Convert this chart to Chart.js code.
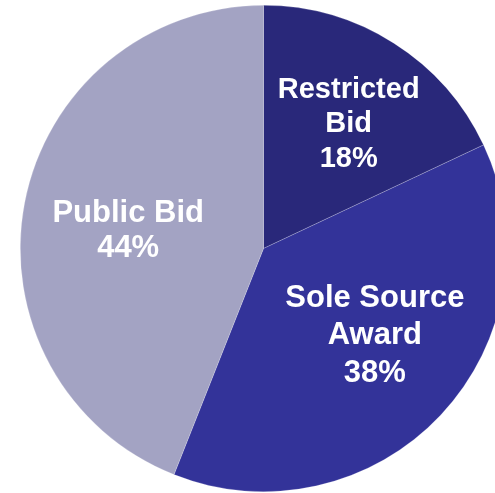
<!DOCTYPE html>
<html>
<head>
<meta charset="utf-8">
<script src="https://cdn.jsdelivr.net/npm/chart.js@4/dist/chart.umd.min.js"></script>
<style>
html,body{margin:0;padding:0;background:#fff;overflow:hidden;width:495px;height:493px;}
#wrap{position:absolute;left:0;top:0;width:527px;height:497px;}
</style>
</head>
<body>
<div id="wrap"><canvas id="c" width="527" height="497"></canvas></div>
<script>
const categories = ["Restricted Bid", "Sole Source Award", "Public Bid"];
const labelLines = [["Restricted", "Bid"], ["Sole Source", "Award"], ["Public Bid"]];
const shares = [18, 38, 44];
const colors = ["#29287a", "#333399", "#a3a3c3"];
// label placement styling (radius fraction, pixel nudges, line height, font size)
const labelStyle = [
  {r: 0.6, dx: 7, dy: -1, lh: 34.5, size: 29},
  {r: 0.6, dx: 5, dy: -12.5, lh: 37.5, size: 31},
  {r: 0.6, dx: 8, dy: 10, lh: 35, size: 31}
];

const labelPlugin = {
  id: 'sliceLabels',
  afterDatasetsDraw(chart) {
    const ctx = chart.ctx;
    const meta = chart.getDatasetMeta(0);
    ctx.save();
    ctx.fillStyle = '#ffffff';
    ctx.textAlign = 'center';
    ctx.textBaseline = 'middle';
    meta.data.forEach((arc, i) => {
      const p = arc.getProps(['x','y','startAngle','endAngle','outerRadius'], true);
      const mid = (p.startAngle + p.endAngle) / 2;
      const s = labelStyle[i];
      ctx.font = 'bold ' + s.size + 'px Arial, "Liberation Sans", Helvetica, sans-serif';
      const cx = p.x + Math.cos(mid) * p.outerRadius * s.r + s.dx;
      const cy = p.y + Math.sin(mid) * p.outerRadius * s.r + s.dy;
      const lines = labelLines[i].concat([shares[i] + '%']);
      const y0 = cy - (lines.length - 1) * s.lh / 2;
      lines.forEach((t, k) => ctx.fillText(t, cx, y0 + k * s.lh));
    });
    ctx.restore();
  }
};

new Chart(document.getElementById('c'), {
  type: 'pie',
  data: {
    labels: categories,
    datasets: [{
      data: shares,
      backgroundColor: colors,
      borderColor: 'rgba(255,255,255,0.35)',
      borderWidth: 0.6
    }]
  },
  options: {
    responsive: false,
    devicePixelRatio: 1,
    animation: false,
    layout: {padding: 5},
    plugins: {
      legend: {display: false},
      tooltip: {enabled: false}
    }
  },
  plugins: [labelPlugin]
});
</script>
</body>
</html>
